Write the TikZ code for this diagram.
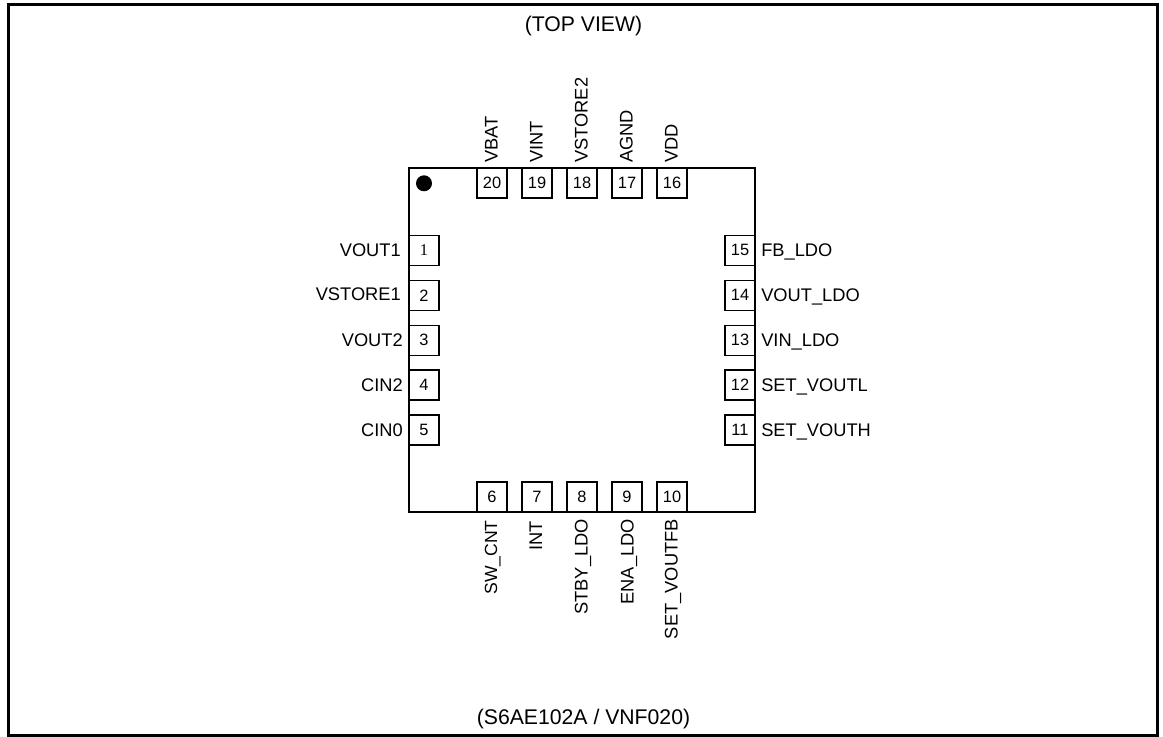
\documentclass[tikz,border=0pt]{standalone}
\usepackage{fontspec}
\setmainfont{Liberation Sans}
\newfontfamily\pinserif{Liberation Serif}
\tikzset{
  x=0.75pt,y=-0.75pt,
  pinbox/.style={draw=black,line width=0.8pt,fill=white,minimum width=22.5pt,minimum height=22.5pt,inner sep=0pt,anchor=center,font=\fontsize{12.3}{14}\selectfont},
  pinlabel/.style={inner sep=0pt,font=\fontsize{13.7}{16}\selectfont,text height=10pt,text depth=0pt},
  lleft/.style={pinlabel,anchor=east},
  lright/.style={pinlabel,anchor=west},
  lup/.style={pinlabel,anchor=west,rotate=90},
  ldown/.style={pinlabel,anchor=east,rotate=90},
  caption/.style={inner sep=0pt,font=\fontsize{15.9}{18}\selectfont,anchor=base},
}
\begin{document}
\begin{tikzpicture}
\useasboundingbox (0,0) rectangle (1163,737);
\fill[white] (0,0) rectangle (1163,737);
\draw[line width=2.25pt] (8.5,4.8) rectangle (1157.5,735.5);
\node[caption] (title) at (583.5,31.5) {(TOP VIEW)};
\node[caption] (part) at (583.5,724) {(S6AE102A / VNF020)};
\draw[line width=0.8pt] (409,168) rectangle (755,512);
\fill (424,183.3) circle (6pt);
% top
\node[pinbox] (p20) at (492,183) {20};
\node[pinbox] (p19) at (537,183) {19};
\node[pinbox] (p18) at (582,183) {18};
\node[pinbox] (p17) at (627,183) {17};
\node[pinbox] (p16) at (672,183) {16};
\node[lup] (l20) at (491,163) {VBAT};
\node[lup] (l19) at (536,163) {VINT};
\node[lup] (l18) at (581,163) {VSTORE2};
\node[lup] (l17) at (626,163) {AGND};
\node[lup] (l16) at (671,163) {VDD};
% left
\node[pinbox,font=\pinserif\fontsize{12.3}{14}\selectfont] (p1) at (424,250.3) {1};
\node[pinbox] (p2) at (424,295.3) {2};
\node[pinbox] (p3) at (424,340.2) {3};
\node[pinbox] (p4) at (424,385) {4};
\node[pinbox] (p5) at (424,430) {5};
\node[lleft] (l1) at (401,249.5) {VOUT1};
\node[lleft] (l2) at (401,294) {VSTORE1};
\node[lleft] (l3) at (403,339.5) {VOUT2};
\node[lleft] (l4) at (403,385) {CIN2};
\node[lleft] (l5) at (403,429.5) {CIN0};
% right
\node[pinbox] (p15) at (740,250.3) {15};
\node[pinbox] (p14) at (740,295.3) {14};
\node[pinbox] (p13) at (740,340.2) {13};
\node[pinbox] (p12) at (740,385) {12};
\node[pinbox] (p11) at (740,430) {11};
\node[lright] (l15) at (761,250) {FB\_LDO};
\node[lright] (l14) at (761,295) {VOUT\_LDO};
\node[lright] (l13) at (761,340) {VIN\_LDO};
\node[lright] (l12) at (761,385) {SET\_VOUTL};
\node[lright] (l11) at (761,430) {SET\_VOUTH};
% bottom
\node[pinbox] (p6) at (492,497) {6};
\node[pinbox] (p7) at (537,497) {7};
\node[pinbox] (p8) at (582,497) {8};
\node[pinbox] (p9) at (627,497) {9};
\node[pinbox] (p10) at (672,497) {10};
\node[ldown,font=\fontsize{13.2}{16}\selectfont] (l6) at (490.5,520) {SW\_CNT};
\node[ldown] (l7) at (535.5,521) {INT};
\node[ldown] (l8) at (581,519) {STBY\_LDO};
\node[ldown] (l9) at (627,519) {ENA\_LDO};
\node[ldown] (l10) at (671,519) {SET\_VOUTFB};
\end{tikzpicture}
\end{document}
